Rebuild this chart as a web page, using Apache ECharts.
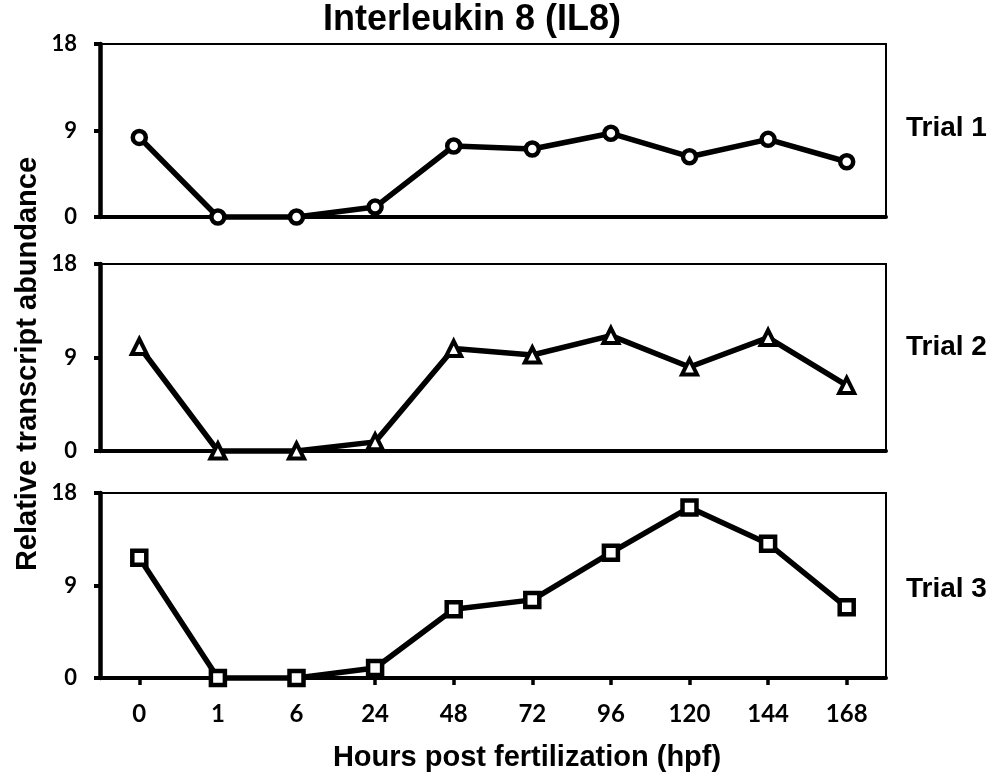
<!DOCTYPE html>
<html>
<head>
<meta charset="utf-8">
<title>Interleukin 8 (IL8)</title>
<script src="https://cdn.jsdelivr.net/npm/echarts@6/dist/echarts.min.js"></script>
<style>
  html, body { margin: 0; padding: 0; background: #fff; }
  #chart { width: 994px; height: 778px; }
</style>
</head>
<body>
<div id="chart"></div>
<script>
// Sampling times, hours post fertilization
const hpf = ['0', '1', '6', '24', '48', '72', '96', '120', '144', '168'];

// Relative IL8 transcript abundance per trial
const trial1 = [8.28, 0, 0, 1.03, 7.39, 7.07, 8.71, 6.27, 8.08, 5.75];
const trial2 = [10.06, 0, 0, 0.88, 9.86, 9.24, 11.11, 8.09, 10.92, 6.31];
const trial3 = [11.7, 0, 0, 0.98, 6.69, 7.6, 12.19, 16.6, 13.07, 6.88];

// Shared value axis range for all panels
const yMin = 0;
const yMax = 18;
const yStep = 9;

const trialNames = ['Trial 1', 'Trial 2', 'Trial 3'];
const trialData = [trial1, trial2, trial3];
const trialSymbols = ['circle', 'triangle', 'rect'];

// Panel layout (pixels)
const panelTop = [44, 264, 493];
const panelHeight = [173, 187, 185];
const symbolSizes = [13, 15, 14];
const symbolBorders = [4.5, 4, 4.5];
const labelY = [128, 347, 589];

const tickFont = 'Lato, "Open Sans", sans-serif';
const textFont = '"Liberation Sans", Arial, sans-serif';

const chart = echarts.init(document.getElementById('chart'), null, { renderer: 'canvas' });

const grids = panelTop.map((t, i) => ({
  left: 100,
  width: 786,
  top: t,
  height: panelHeight[i],
  show: true,
  borderColor: '#000',
  borderWidth: 2,
  backgroundColor: 'transparent'
}));

const xAxes = panelTop.map((t, i) => {
  const last = i === panelTop.length - 1;
  return {
    type: 'category',
    gridIndex: i,
    data: hpf,
    boundaryGap: true,
    axisLine: { show: true, lineStyle: { color: '#000', width: 4 } },
    axisTick: {
      show: last,
      alignWithLabel: true,
      length: 7,
      lineStyle: { color: '#000', width: 3.5 }
    },
    axisLabel: {
      show: last,
      margin: 24,
      color: '#000',
      fontFamily: tickFont,
      fontWeight: 'bold',
      fontSize: 24
    },
    splitLine: { show: false }
  };
});

const yAxes = panelTop.map((t, i) => ({
  type: 'value',
  gridIndex: i,
  min: yMin,
  max: yMax,
  interval: yStep,
  axisLine: { show: true, lineStyle: { color: '#000', width: 4.5 } },
  axisTick: { show: true, length: 6, lineStyle: { color: '#000', width: 4 } },
  axisLabel: {
    margin: 23,
    color: '#000',
    fontFamily: tickFont,
    fontWeight: 'bold',
    fontSize: 22
  },
  splitLine: { show: false }
}));

const series = trialData.map((d, i) => ({
  name: trialNames[i],
  type: 'line',
  xAxisIndex: i,
  yAxisIndex: i,
  data: d,
  clip: false,
  symbol: trialSymbols[i],
  symbolSize: symbolSizes[i],
  showAllSymbol: true,
  lineStyle: { color: '#000', width: 5.5 },
  itemStyle: { color: '#fff', borderColor: '#000', borderWidth: symbolBorders[i] },
  emphasis: { disabled: true },
  animation: false,
  z: 5
}));

const textStyle = (txt, size, align) => ({
  text: txt,
  fontFamily: textFont,
  fontWeight: 'bold',
  fontSize: size,
  fill: '#000',
  align: align,
  verticalAlign: 'middle'
});

const graphic = [
  { type: 'text', x: 472, y: 20, style: textStyle('Interleukin 8 (IL8)', 36, 'center') },
  { type: 'text', x: 28, y: 364, rotation: Math.PI / 2, style: textStyle('Relative transcript abundance', 29, 'center') },
  { type: 'text', x: 527, y: 758, style: textStyle('Hours post fertilization (hpf)', 29, 'center') }
].concat(trialNames.map((n, i) => ({
  type: 'text', x: 906, y: labelY[i], style: textStyle(n, 28, 'left')
})));

chart.setOption({
  animation: false,
  backgroundColor: '#fff',
  grid: grids,
  xAxis: xAxes,
  yAxis: yAxes,
  series: series,
  graphic: graphic
});
</script>
</body>
</html>
